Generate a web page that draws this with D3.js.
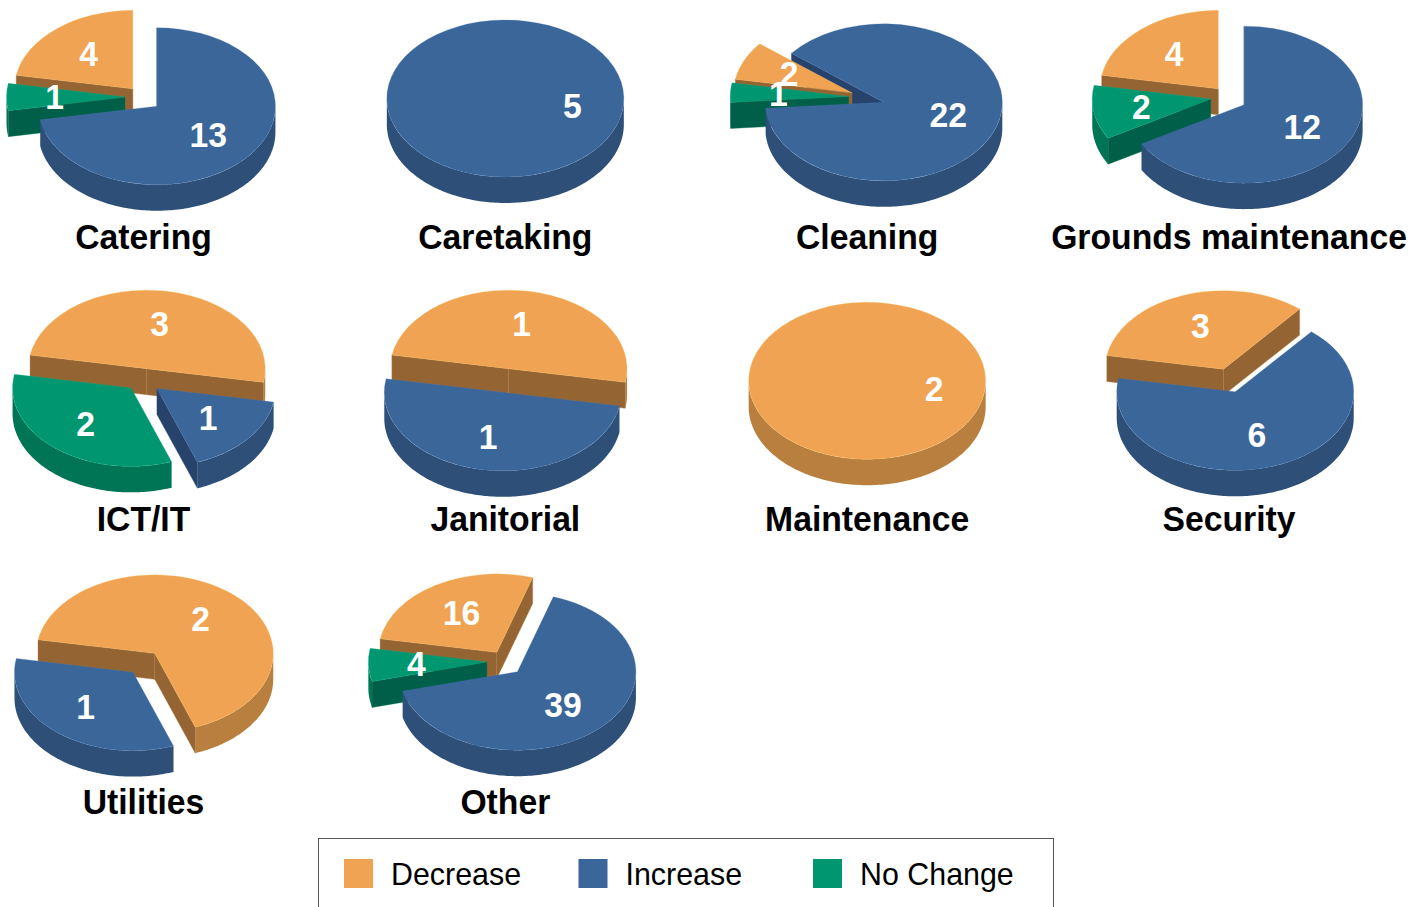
<!DOCTYPE html>
<html><head><meta charset="utf-8">
<script src="https://cdn.jsdelivr.net/npm/d3@7"></script>
<style>html,body{margin:0;padding:0;background:#fff;overflow:hidden}svg{display:block}text{font-family:"Liberation Sans",Arial,sans-serif}</style>
</head><body><svg id="c" width="1409" height="907"></svg>
<script>
const categories = ["Catering","Caretaking","Cleaning","Grounds maintenance","ICT/IT","Janitorial","Maintenance","Security","Utilities","Other"];
const decrease = [4,0,2,4,3,1,2,3,2,16];
const increase = [13,5,22,12,1,1,0,6,1,39];
const noChange = [1,0,1,2,2,0,0,0,0,4];
const seriesNames = ["Decrease","Increase","No Change"];
const seriesValues = [decrease,increase,noChange];
const topColors = ["#f0a352","#3b6699","#009670"];
const outerColors = ["#b97f3f","#2d4f78","#007555"];
const cutColors = ["#946433","#27436c","#005f48"];

const W=1409,H=907, RX=118.5, RY=78.5, DEPTH=26, EXPLODE=17, LABEL_R=70;
const START=280*Math.PI/180;
const TEXT_STRETCH=1.05;
const sliceNudge=[[0.3,-1],[0.4,0.5],[-1.5,-1.5]];
const labelNudge=[[0.8,0],[-2.4,-1.5],[-0.5,-0.5]];
const singleLabelNudge=[-2,-1];
const svg=d3.select("#c");
const colX=d3.scalePoint().domain(d3.range(4)).range([143.5,1229]);
const rowY=d3.scalePoint().domain(d3.range(3)).range([98.5,663]);
const pie=d3.pie().sort(null).value(d=>d.v).startAngle(START).endAngle(START+2*Math.PI);
const arc=d3.arc().innerRadius(0).outerRadius(RX);
const line=d3.line();
const yK=RY/RX;
const rim=(t,r=RX)=>[r*Math.sin(t),-r*yK*Math.cos(t)];

function drawCut(g,a,i){
  const A=[0,0],B=rim(a);
  g.append("path").attr("d",line([A,B,[B[0],B[1]+DEPTH],[A[0],A[1]+DEPTH]])+"Z")
   .attr("fill",cutColors[i]).attr("stroke",d3.color(cutColors[i]).brighter(.5)).attr("stroke-width",.4);
}
function drawSlice(g,s,parts){
  const i=s.data.i,a=s.startAngle,b=s.endAngle,full=b-a>=2*Math.PI-1e-6;
  if(parts.outer){
    for(let k=-1;k<3;k++){
      const lo=Math.max(a,Math.PI/2+2*Math.PI*k),hi=Math.min(b,3*Math.PI/2+2*Math.PI*k);
      if(hi<=lo)continue;
      const n=Math.ceil((hi-lo)/0.02),ang=d3.range(n+1).map(j=>lo+(hi-lo)*j/n);
      const up=ang.map(t=>rim(t)),dn=ang.slice().reverse().map(t=>{const p=rim(t);return[p[0],p[1]+DEPTH]});
      g.append("path").attr("d",line(up.concat(dn))+"Z").attr("fill",outerColors[i]);
    }
  }
  if(!full){
    if(parts.start&&Math.sin(a)<0)drawCut(g,a,i);
    if(parts.end&&Math.sin(b)>0)drawCut(g,b,i);
  }
  if(parts.top){
    g.append("path").attr("transform",`scale(1,${yK})`)
     .attr("d",arc({startAngle:a,endAngle:b})).attr("fill",topColors[i])
     .attr("stroke",d3.color(topColors[i]).brighter(.6)).attr("stroke-opacity",.6).attr("stroke-width",.5);
  }
}
categories.forEach((name,ci)=>{
  const cx=colX(ci%4),cy=rowY(Math.floor(ci/4));
  const vals=seriesValues.map((v,i)=>({v:v[ci],i})).filter(d=>d.v>0);
  const arcs=pie(vals);
  const single=arcs.length===1;
  const offset=s=>{
    if(single)return[0,0];
    const m=(s.startAngle+s.endAngle)/2,o=rim(m,EXPLODE),n=sliceNudge[s.data.i];
    return[o[0]+n[0],o[1]+n[1]];
  };
  const root=svg.append("g").attr("transform",`translate(${cx},${cy})`);
  const sliceG=s=>{const o=offset(s);return root.append("g").attr("transform",`translate(${o[0]},${o[1]})`)};
  const isBig=s=>s.endAngle-s.startAngle>Math.PI*1.1&&!single;
  arcs.filter(isBig).forEach(s=>drawSlice(sliceG(s),s,{start:true}));
  const order=[0,2,1];
  order.forEach(i=>{
    const s=arcs.find(d=>d.data.i===i); if(!s)return;
    drawSlice(sliceG(s),s,{outer:true,start:!isBig(s),end:true,top:true});
  });
  arcs.forEach(s=>{
    const o=offset(s),p=rim((s.startAngle+s.endAngle)/2,LABEL_R),n=single?singleLabelNudge:labelNudge[s.data.i];
    root.append("text").attr("transform",`translate(${o[0]+p[0]+n[0]},${o[1]+p[1]+n[1]}) scale(1,${TEXT_STRETCH})`).attr("dy",".36em")
      .attr("text-anchor","middle").attr("font-size",33.7).attr("font-weight","bold").attr("fill","#fff").text(s.data.v);
  });
  root.append("text").attr("transform",`translate(0,150.5) scale(1,${TEXT_STRETCH})`).attr("text-anchor","middle")
    .attr("font-size",33.7).attr("font-weight","bold").attr("fill","#000").text(name);
});
// legend
svg.append("rect").attr("x",318.5).attr("y",838.5).attr("width",735).attr("height",100).attr("fill","none").attr("stroke","#555").attr("stroke-width",1);
const legX=d3.scalePoint().domain(seriesNames).range([344,813]);
seriesNames.forEach((n,i)=>{
  svg.append("rect").attr("x",legX(n)).attr("y",859).attr("width",29).attr("height",29).attr("fill",topColors[i]);
  svg.append("text").attr("transform",`translate(${legX(n)+47},884.5) scale(1,${TEXT_STRETCH})`).attr("font-size",30.4).attr("fill","#000").text(n);
});
</script></body></html>
